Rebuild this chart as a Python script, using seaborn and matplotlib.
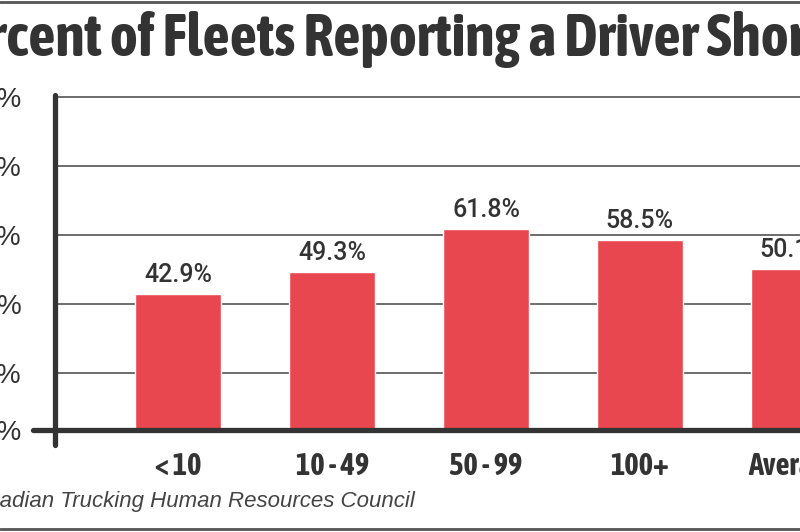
import matplotlib
matplotlib.use("Agg")
import matplotlib.pyplot as plt
import seaborn as sns
import pandas as pd
from matplotlib import font_manager
from matplotlib.lines import Line2D

# data
categories = ["< 10", "10 - 49", "50 - 99", "100+", "Average"]
shortage_pct = [42.9, 49.3, 61.8, 58.5, 50.1]
tick_values = [3.5, 20, 40, 60, 80, 100]
tick_labels = ["0%", "20%", "40%", "60%", "80%", "100%"]

df = pd.DataFrame({"fleet": categories, "pct": shortage_pct})


def wt(w):
    if isinstance(w, int):
        return w
    return font_manager.weight_dict.get(w, 400)


# look for a bold condensed face, fall back to Liberation Sans
cond = sorted({f.name for f in font_manager.fontManager.ttflist
               if ("Narrow" in f.name or "Condensed" in f.name) and wt(f.weight) >= 600})
narrow = cond[:1] + ["Liberation Sans", "DejaVu Sans"]

sns.set_style("white")
plt.rcParams["font.family"] = ["Liberation Sans", "DejaVu Sans"]
dark = "#333333"

fig = plt.figure(figsize=(8, 5.32), dpi=100)
ax = fig.add_axes([55 / 800, 102 / 532, 862 / 800, 335 / 532])

sns.barplot(data=df, x="fleet", y="pct", order=categories, color="#E9474F",
            width=0.56, saturation=1, ax=ax, zorder=3)

ax.set_xlim(-0.8, 4.8)
ax.set_ylim(3.5, 100.58)
ax.set_yticks(tick_values)
ax.set_yticklabels(tick_labels, fontsize=20, color=dark)
ax.set_xticks(range(len(categories)))
ax.set_xticklabels(categories, fontsize=22, fontweight="bold", color=dark, family=narrow)
ax.set_xlabel("")
ax.set_ylabel("")

ax.yaxis.grid(True, color="#444444", lw=1.1, zorder=1)
ax.tick_params(axis="y", direction="out", length=18, width=1.1, color="#444444", pad=6)
ax.tick_params(axis="x", length=0, pad=15)

for side in ["top", "right", "bottom", "left"]:
    ax.spines[side].set_visible(False)

# thick vertical axis and baseline
ax.axvline(-0.8, ymin=-0.045, ymax=1, color=dark, lw=3.8, clip_on=False, zorder=5)
ax.axhline(3.5, xmin=-0.025, xmax=1, color=dark, lw=3.8, clip_on=False, zorder=5)

ax.bar_label(ax.containers[0], fmt="%.1f%%", padding=5, fontsize=18, color=dark,
             family=["Roboto", "Liberation Sans"], fontweight="medium")

title_size = 43 if cond else 31
fig.text(418 / 800, 1 - 39 / 532, "Percent of Fleets Reporting a Driver Shortage",
         ha="center", va="center", fontsize=title_size, fontweight="bold", color=dark, family=narrow)
fig.text(415 / 800, 1 - 502 / 532, "Source: Canadian Trucking Human Resources Council",
         ha="right", va="center", fontsize=16, style="italic", color="#444444")

# frame lines top and bottom
fig.add_artist(Line2D([0, 1], [1 - 1.5 / 532, 1 - 1.5 / 532], color="#555555", lw=2))
fig.add_artist(Line2D([0, 1], [3.5 / 532, 3.5 / 532], color="#555555", lw=2))

fig.savefig("out.png", dpi=100)
